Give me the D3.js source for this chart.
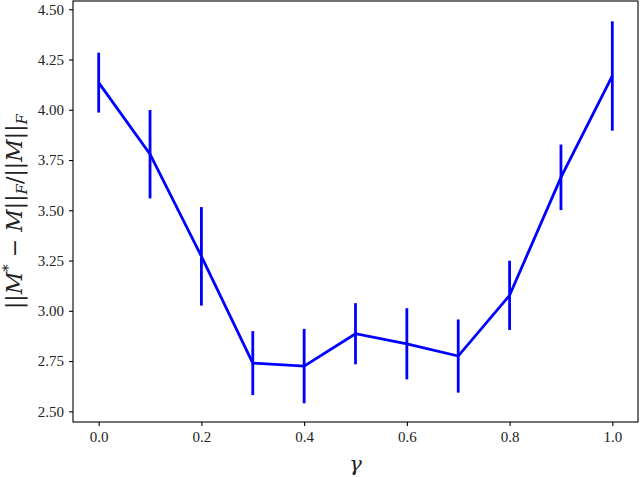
<!DOCTYPE html>
<html>
<head>
<meta charset="utf-8">
<script src="https://cdn.jsdelivr.net/npm/d3@7"></script>
<style>
  body { margin: 0; background: #fff; }
</style>
</head>
<body>
<div id="chart-area"></div>
<script>
// gamma values, mean error and error bar half-width
var gammas = [0.0, 0.1, 0.2, 0.3, 0.4, 0.5, 0.6, 0.7, 0.8, 0.9, 1.0];
var errMean = [4.135, 3.779, 3.271, 2.740, 2.725, 2.886, 2.836, 2.775, 3.077, 3.664, 4.168];
var errStd = [0.149, 0.220, 0.245, 0.159, 0.185, 0.152, 0.177, 0.182, 0.172, 0.163, 0.272];
var xTicks = [0.0, 0.2, 0.4, 0.6, 0.8, 1.0];
var yTicks = [2.50, 2.75, 3.00, 3.25, 3.50, 3.75, 4.00, 4.25, 4.50];

var serif = 'DejaVu Serif';

var margin = { top: 1, right: 2, bottom: 55, left: 73 };
var width = 640 - margin.left - margin.right;
var height = 477 - margin.top - margin.bottom;

var svg = d3.select('#chart-area')
    .append('svg')
    .attr('width', 640)
    .attr('height', 477);

var graph = svg.append('g')
    .attr('transform', 'translate(' + margin.left + ',' + margin.top + ')');

var x = d3.scaleLinear()
    .domain([-0.05, 1.05])
    .range([0, width]);

var y = d3.scaleLinear()
    .domain([2.447, 4.541])
    .range([height, 0]);

var xAxis = d3.axisBottom(x)
    .tickValues(xTicks)
    .tickFormat(d3.format('.1f'))
    .tickSizeOuter(0)
    .tickSize(4)
    .tickPadding(5);
var gx = graph.append('g')
    .attr('class', 'x-axis')
    .attr('transform', 'translate(0,' + height + ')')
    .call(xAxis);

var yAxis = d3.axisLeft(y)
    .tickValues(yTicks)
    .tickFormat(d3.format('.2f'))
    .tickSizeOuter(0)
    .tickSize(4)
    .tickPadding(5);
var gy = graph.append('g')
    .attr('class', 'y-axis')
    .call(yAxis);

[gx, gy].forEach(function (g) {
    g.attr('font-family', 'Liberation Serif').attr('font-size', 15);
    g.select('.domain').remove();
    g.selectAll('line').attr('stroke', '#000').attr('stroke-width', 1.1);
    g.selectAll('text').attr('fill', '#222');
});

// frame
graph.append('rect')
    .attr('x', 0)
    .attr('y', 0)
    .attr('width', width)
    .attr('height', height)
    .attr('fill', 'none')
    .attr('stroke', '#000')
    .attr('stroke-width', 1.1);

var data = gammas.map(function (g, i) {
    return { g: g, m: errMean[i], s: errStd[i] };
});

var line = d3.line()
    .x(function (d) { return x(d.g); })
    .y(function (d) { return y(d.m); });

graph.append('path')
    .datum(data)
    .attr('d', line)
    .attr('fill', 'none')
    .attr('stroke', '#0000ff')
    .attr('stroke-width', 2.8);

graph.selectAll('.err')
    .data(data)
    .enter()
    .append('line')
    .attr('class', 'err')
    .attr('x1', function (d) { return x(d.g); })
    .attr('x2', function (d) { return x(d.g); })
    .attr('y1', function (d) { return y(d.m - d.s); })
    .attr('y2', function (d) { return y(d.m + d.s); })
    .attr('stroke', '#0000ff')
    .attr('stroke-width', 2.8);

// x label
svg.append('text')
    .attr('x', margin.left + width / 2)
    .attr('y', 471)
    .attr('text-anchor', 'middle')
    .attr('font-family', serif)
    .attr('font-size', '21px')
    .attr('font-style', 'italic')
    .attr('fill', '#222')
    .text('γ');

// y label: ||M* − M||_F / ||M||_F
var yl = svg.append('text')
    .attr('transform', 'translate(22,' + (margin.top + height / 2) + ') rotate(-90)')
    .attr('text-anchor', 'middle')
    .attr('font-family', serif)
    .attr('font-size', '22px')
    .attr('fill', '#222');
yl.append('tspan').text('||');
yl.append('tspan').attr('font-style', 'italic').text('M');
yl.append('tspan').attr('font-size', '15px').attr('dy', -9).text('*');
yl.append('tspan').attr('dy', 9).text(' − ');
yl.append('tspan').attr('font-style', 'italic').text('M');
yl.append('tspan').text('||');
yl.append('tspan').attr('font-size', '15px').attr('font-style', 'italic').attr('dy', 5).text('F');
yl.append('tspan').attr('dy', -5).text('/||');
yl.append('tspan').attr('font-style', 'italic').text('M');
yl.append('tspan').text('||');
yl.append('tspan').attr('font-size', '15px').attr('font-style', 'italic').attr('dy', 5).text('F');
</script>
</body>
</html>
